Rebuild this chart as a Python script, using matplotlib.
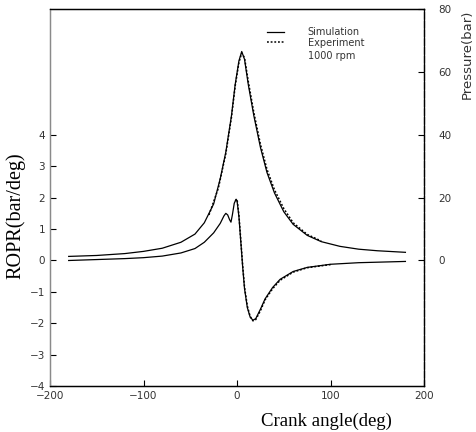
import matplotlib
matplotlib.use('Agg')
import matplotlib.pyplot as plt
import numpy as np

# ---- data ----
# cylinder pressure (bar), right axis
sim_p_deg = [-180, -150, -120, -100, -80, -60, -45, -35, -25, -18, -12, -6, -2,
             2, 5, 8, 12, 18, 25, 32, 40, 50, 60, 75, 90, 110, 130, 150, 180]
sim_p = [1.3, 1.6, 2.2, 2.9, 3.9, 5.8, 8.4, 12.0, 18.0, 26.0, 34.5, 46, 56,
         63.5, 66.5, 64, 56, 46, 36, 28, 21.5, 15.5, 11.5, 8.0, 6.0, 4.5, 3.6, 3.1, 2.6]

exp_p_deg = [-30, -20, -12, -6, -2, 2, 5, 8, 12, 18, 25, 32, 40, 50, 60, 75, 90]
exp_p = [14.5, 23.0, 34.0, 45.5, 55.5, 63.0, 66.0, 64.5, 57, 47, 37, 29, 22.5, 16.5, 12.0, 8.3, 6.2]

# rate of pressure rise (bar/deg), left axis
sim_r_deg = [-180, -150, -120, -100, -80, -60, -45, -35, -25, -18, -14, -12, -10,
             -8, -6.5, -5, -3, -1, 0, 2, 4, 6, 8, 11, 14, 17, 20, 25, 30, 38,
             46, 60, 75, 100, 130, 180]
sim_r = [0.0, 0.03, 0.06, 0.09, 0.14, 0.24, 0.38, 0.58, 0.88, 1.18, 1.42, 1.5, 1.45,
         1.3, 1.22, 1.45, 1.82, 1.95, 1.9, 1.4, 0.6, -0.2, -0.9, -1.5, -1.8, -1.9, -1.85,
         -1.55, -1.22, -0.86, -0.6, -0.35, -0.22, -0.12, -0.07, -0.03]

exp_r_deg = [-2, 0, 2, 4, 6, 8, 11, 14, 17, 20, 25, 30, 38, 46, 60, 75, 100]
exp_r = [1.9, 1.95, 1.45, 0.65, -0.15, -0.85, -1.45, -1.78, -1.92, -1.88,
         -1.6, -1.25, -0.9, -0.63, -0.37, -0.23, -0.13]

x_ticks = [-200, -100, 0, 100, 200]
left_ticks = [-4, -3, -2, -1, 0, 1, 2, 3, 4]
right_ticks = [0, 20, 40, 60, 80]

fig = plt.figure(figsize=(4.76, 4.32), dpi=100)
ax = fig.add_axes([0.105, 0.106, 0.786, 0.873])
ax2 = ax.twinx()

ax.plot(sim_r_deg, sim_r, color='black', lw=0.9)
ax.plot(exp_r_deg, exp_r, color='black', lw=1.1, ls=(0, (1.2, 1.2)))
ax2.plot(sim_p_deg, sim_p, color='black', lw=0.9, label='Simulation')
ax2.plot(exp_p_deg, exp_p, color='black', lw=1.1, ls=(0, (1.2, 1.2)), label='Experiment')

ax.set_xlim(-200, 200)
ax.set_ylim(-4, 8)
ax2.set_ylim(-40, 80)
ax.set_xticks(x_ticks)
ax.set_yticks(left_ticks)
ax2.set_yticks(right_ticks)

tick_kw = dict(direction='in', labelsize=7.5, labelcolor='#333333', width=0.8, length=4)
ax.tick_params(axis='both', **tick_kw)
ax2.tick_params(axis='y', pad=10, **tick_kw)

for a in (ax, ax2):
    for s in a.spines.values():
        s.set_linewidth(0.9)
ax.spines['left'].set_color('#8a8a8a')
ax2.spines['left'].set_color('#8a8a8a')
ax2.spines['right'].set_linestyle((0, (5, 2)))

serif = ['Liberation Serif', 'DejaVu Serif']
fig.text(0.685, 0.025, 'Crank angle(deg)', family=serif, fontsize=13.5,
         ha='center', va='center')
fig.text(0.032, 0.50, 'ROPR(bar/deg)', family=serif, fontsize=14.5,
         rotation=90, ha='center', va='center')
fig.text(0.982, 0.875, 'Pressure(bar)', fontsize=9.5, color='#333333',
         rotation=90, ha='center', va='center')

leg = ax2.legend(loc='upper left', bbox_to_anchor=(0.58, 0.952), frameon=False,
                 fontsize=7.0, handlelength=1.7, handletextpad=2.5,
                 borderaxespad=0, borderpad=0, labelspacing=0.05)
for t in leg.get_texts():
    t.set_color('#333333')
ax2.text(0.69, 0.875, '1000 rpm', transform=ax2.transAxes, fontsize=7.0,
         color='#333333', ha='left', va='center')

fig.savefig('out.png', dpi=100, facecolor='white')
